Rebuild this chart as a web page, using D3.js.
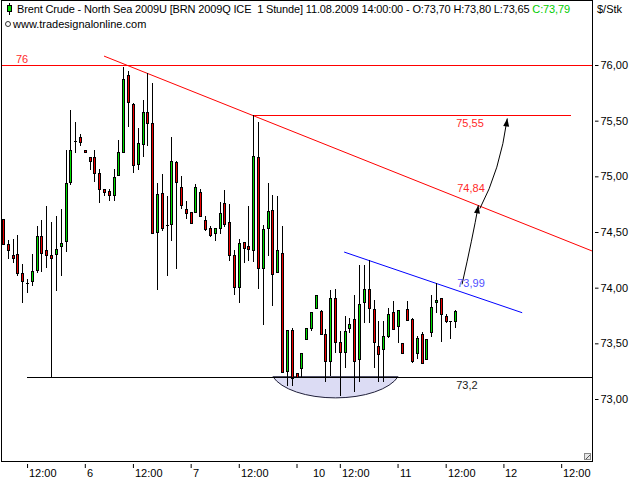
<!DOCTYPE html>
<html><head><meta charset="utf-8">
<script src="https://cdn.jsdelivr.net/npm/d3@7/dist/d3.min.js"></script>
<style>
body{margin:0;background:#fff}
svg{display:block}
text{font-family:"Liberation Sans",Arial,sans-serif;font-size:11px;white-space:pre}
</style>
</head><body>
<svg id="c" width="640" height="480"></svg>
<script>
// ---- data (hourly candles, Brent Crude) ----
const opens  = [74.62,74.39,74.29,74.30,74.13,74.04,74.06,74.16,74.46,74.34,74.29,74.30,74.37,74.42,74.95,75.32,75.35,75.24,75.17,75.17,
                75.03,74.89,74.87,74.83,75.01,75.22,75.91,75.65,75.11,75.29,75.58,75.48,74.50,74.85,74.56,74.57,75.13,74.90,74.71,74.68,
                74.68,74.86,74.61,74.54,74.49,74.54,74.76,74.59,74.29,74.01,74.41,74.37,74.34,75.17,74.18,74.54,74.70,74.14,74.31,73.25,
                73.62,73.23,73.28,73.54,73.64,73.82,73.79,73.58,73.34,73.91,73.51,73.42,73.64,73.72,73.36,73.87,73.99,73.81,73.48,73.45,
                73.57,73.78,73.66,73.50,73.81,73.72,73.41,73.58,73.36,73.60,73.87,73.91,73.75,73.70,73.70];
const highs  = [74.62,74.43,74.44,74.47,74.21,74.08,74.30,74.55,74.61,74.73,74.59,74.64,74.71,75.24,75.60,75.49,75.38,75.24,75.17,75.24,
                75.07,74.89,74.89,75.07,75.33,75.98,75.95,75.66,75.43,75.69,75.93,75.84,74.94,75.02,74.82,75.35,75.14,75.00,74.78,74.68,
                74.93,74.89,74.64,74.55,74.54,74.77,74.88,74.75,74.34,74.44,74.41,74.73,75.55,75.49,74.56,74.94,74.83,74.82,74.55,73.62,
                73.64,73.23,73.41,73.64,73.78,73.93,73.80,73.63,73.98,73.99,73.61,73.75,73.73,73.93,74.20,74.20,74.25,73.89,73.70,73.70,
                73.82,73.88,73.80,73.50,73.88,73.73,73.57,73.60,73.54,73.93,74.04,73.91,73.76,73.70,73.80];
const lows   = [74.39,74.27,74.23,74.11,73.87,73.96,74.02,74.14,74.15,74.19,73.20,73.98,74.11,74.33,74.93,75.22,75.28,75.22,75.07,74.96,
                74.77,74.83,74.79,74.79,75.01,75.22,75.45,75.04,75.07,75.18,75.28,74.49,73.99,74.52,74.11,74.43,74.18,74.72,74.63,74.58,
                74.68,74.64,74.52,74.46,74.43,74.49,74.55,74.25,73.94,73.87,74.23,74.25,74.24,74.00,73.67,74.29,73.84,74.14,73.24,73.13,
                73.13,73.20,73.20,73.54,73.62,73.82,73.58,73.16,73.22,73.42,73.04,73.29,73.60,73.07,73.16,73.69,73.69,73.29,73.16,73.16,
                73.56,73.63,73.51,73.41,73.71,73.33,73.37,73.32,73.36,73.57,73.78,73.52,73.69,73.55,73.65];
const closes = [74.39,74.34,74.27,74.13,74.06,74.04,74.15,74.46,74.31,74.29,74.27,74.35,74.40,74.94,75.24,75.32,75.31,75.22,75.14,75.03,
                74.89,74.86,74.83,74.99,75.22,75.87,75.67,75.10,75.30,75.58,75.48,74.49,74.84,74.54,74.56,75.14,74.95,74.74,74.67,74.58,
                74.90,74.64,74.53,74.47,74.54,74.67,74.57,74.29,74.01,74.40,74.36,74.35,75.18,74.18,74.53,74.69,74.12,74.34,73.24,73.62,
                73.19,73.20,73.41,73.64,73.78,73.93,73.58,73.34,73.91,73.51,73.42,73.61,73.67,73.34,73.85,73.99,73.82,73.51,73.40,73.57,
                73.76,73.63,73.80,73.41,73.71,73.34,73.55,73.32,73.54,73.83,73.89,73.76,73.70,73.70,73.79];

const priceTicks = [73.0, 73.5, 74.0, 74.5, 75.0, 75.5, 76.0];
const timeTickIdx  = [5, 17, 27, 39, 49, 61, 70, 82, 92, 104, 116];
const timeLabelIdx = [5, 17, 27, 39, 49, 64, 70, 82, 92, 104, 116];
const timeLabels   = ["12:00","6","12:00","7","12:00","10","12:00","11","12:00","12","12:00"];

// annotations (candle index, price)
const resistance76   = 76.0;
const resistance7555 = {from: 52, to: 118, price: 75.55};
const support732     = {from: 5, price: 73.2};
const downTrend      = [[21, 76.08], [122.4, 74.33]];
const blueTrend      = [[70.9, 74.32], [107.9, 73.775]];
const arrow1 = [[95.4, 74.03], [97.6, 74.45], [98.8, 74.74]];
const arrow2 = [[99.1, 74.71], [103.3, 75.05], [104.8, 75.52]];
const bowl   = {from: 56.1, to: 82.1, top: 73.2, bottom: 73.01};
const levelLabels = [
  {text: "76",    idx: 2.7,  price: 76.00, dy: -2, color: "#ff2a2a"},
  {text: "75,55", idx: 94.2, price: 75.55, dy: 12, color: "#ff2a2a"},
  {text: "74,84", idx: 94.4, price: 74.84, dy: 0,  color: "#ff2a2a"},
  {text: "73,99", idx: 94.4, price: 73.99, dy: 0,  color: "#5050ff"},
  {text: "73,2",  idx: 94.2, price: 73.2,  dy: 12, color: "#1a1a1a"}
];

// ---- layout ----
const svg = d3.select("#c");
const L = 1, T = 0, R = 592, B = 461;
const x = d3.scaleLinear().domain([0, 94]).range([3, 455.3]);
const y = d3.scaleLinear().domain([73, 76]).range([399, 65]);
const fmt = v => d3.format(".2f")(v).replace(".", ",");

svg.append("defs").append("clipPath").attr("id","plot")
  .append("rect").attr("x", L+1).attr("y", T+1).attr("width", R-L-1).attr("height", B-T-1);

const g = svg.append("g").attr("clip-path","url(#plot)");

// bowl (rounded bottom)
{
  const x0 = x(bowl.from), x1 = x(bowl.to), yt = y(bowl.top), yb = y(bowl.bottom);
  const half = (x1 - x0) / 2, depth = yb - yt;
  const ry = depth * 1.4, rx = half / Math.sqrt(1 - Math.pow((ry - depth) / ry, 2));
  g.append("path")
    .attr("d", `M${x0},${yt} A${rx},${ry} 0 0 0 ${x1},${yt} Z`)
    .attr("fill", "#dcdcf4").attr("stroke", "#20203a").attr("stroke-width", 1);
}

// horizontal red lines
const hr = g.append("g").attr("shape-rendering","crispEdges");
hr.append("line").attr("x1", L).attr("x2", R).attr("y1", Math.round(y(resistance76))+0.5).attr("y2", Math.round(y(resistance76))+0.5)
  .style("stroke", "#ff0000").style("stroke-width", 1);
hr.append("line").attr("x1", x(resistance7555.from)).attr("x2", x(resistance7555.to))
  .attr("y1", Math.round(y(resistance7555.price))+0.5).attr("y2", Math.round(y(resistance7555.price))+0.5)
  .style("stroke", "#ff0000").style("stroke-width", 1);

// trend lines
const line = d3.line().x(d => x(d[0])).y(d => y(d[1]));
g.append("path").attr("d", line(downTrend)).attr("stroke", "#ff0000").attr("fill", "none");
g.append("path").attr("d", line(blueTrend)).attr("stroke", "#0000ff").attr("fill", "none");

// candles
const n = opens.length;
const idx = d3.range(n);
const cg = g.append("g").attr("shape-rendering", "crispEdges");
idx.forEach(i => {
  const col = Math.round(x(i));
  const o = opens[i], c = closes[i], h = highs[i], l = lows[i];
  const yh = Math.round(y(h)), yl = Math.round(y(l));
  if (yl > yh) cg.append("line").attr("x1", col+0.5).attr("x2", col+0.5).attr("y1", yh).attr("y2", yl+1).attr("stroke", "#000");
  const yt = Math.round(y(Math.max(o, c))), yb = Math.round(y(Math.min(o, c)));
  if (yb - yt < 1) {
    cg.append("line").attr("x1", col-1).attr("x2", col+2).attr("y1", yt+0.5).attr("y2", yt+0.5).attr("stroke", "#000");
  } else {
    cg.append("rect").attr("x", col-0.5).attr("y", yt+0.5).attr("width", 2).attr("height", yb-yt)
      .attr("fill", c >= o ? "#00dd00" : "#ee0000").attr("stroke", "#000").attr("stroke-width", 1);
  }
});

// support line
g.append("line").attr("x1", x(support732.from)).attr("x2", R)
  .attr("y1", Math.round(y(support732.price))+0.5).attr("y2", Math.round(y(support732.price))+0.5)
  .attr("stroke", "#000").attr("shape-rendering","crispEdges");

// arrows
function arrow(pts) {
  const p = pts.map(d => [x(d[0]), y(d[1])]);
  g.append("path").attr("d", `M${p[0][0]},${p[0][1]} Q${p[1][0]},${p[1][1]} ${p[2][0]},${p[2][1]}`)
    .attr("fill","none").attr("stroke","#000");
  const ang = Math.atan2(p[2][1]-p[1][1], p[2][0]-p[1][0]);
  const len = 8, w = 3;
  const bx = p[2][0] - len*Math.cos(ang), by = p[2][1] - len*Math.sin(ang);
  const nx = -Math.sin(ang), ny = Math.cos(ang);
  g.append("path").attr("d", `M${p[2][0]},${p[2][1]} L${bx+nx*w},${by+ny*w} L${bx-nx*w},${by-ny*w} Z`).attr("fill","#000");
}
arrow(arrow1);
arrow(arrow2);

// level labels
levelLabels.forEach(d => {
  g.append("text").attr("x", x(d.idx)).attr("y", y(d.price) + d.dy - (d.dy === 0 ? 2 : 0))
    .attr("fill", d.color).text(d.text);
});

// frame
svg.append("rect").attr("x", L+0.5).attr("y", T+0.5).attr("width", R-L).attr("height", B-T)
  .attr("fill","none").attr("stroke","#000").attr("shape-rendering","crispEdges");
// resize grip
svg.append("rect").attr("x", R-7.5).attr("y", B-7.5).attr("width", 6).attr("height", 6).attr("fill","#e8e8e8").attr("stroke","#888");
svg.append("line").attr("x1", R-6).attr("y1", B-2).attr("x2", R-2).attr("y2", B-6).attr("stroke","#555");

// right price axis
const yAxis = d3.axisRight(y).tickValues(priceTicks).tickSize(3).tickPadding(6).tickFormat(fmt);
const ya = svg.append("g").attr("transform", `translate(${R+0.5},0)`).call(yAxis);
ya.select(".domain").remove();
ya.selectAll(".tick line").attr("x1", 2.5).attr("x2", 6).attr("stroke", "#000");
ya.selectAll(".tick text").attr("x", 8).attr("fill", "#000").style("font-size","11px").style("font-family","Liberation Sans, Arial, sans-serif");
svg.append("text").attr("x", 597).attr("y", 13).attr("fill","#000").text("$/Stk");

// bottom time axis
const xAxis = d3.axisBottom(x).tickValues(timeTickIdx).tickSize(4).tickFormat("");
const xa = svg.append("g").attr("transform", `translate(0,${B+3})`).call(xAxis);
xa.select(".domain").remove();
xa.selectAll(".tick line").attr("stroke","#000");
svg.append("g").selectAll("text").data(timeLabelIdx).join("text")
  .attr("x", (d) => Math.round(x(d)) + 2).attr("y", 477).attr("fill","#000")
  .text((d, i) => timeLabels[i]);

// header
const icon = svg.append("g").attr("shape-rendering","crispEdges");
icon.append("line").attr("x1", 9.5).attr("x2", 9.5).attr("y1", 3).attr("y2", 15).attr("stroke","#000");
icon.append("rect").attr("x", 7.5).attr("y", 5.5).attr("width", 4).attr("height", 6).attr("fill","#00dd00").attr("stroke","#000");
const t1 = svg.append("text").attr("x", 17).attr("y", 13).attr("fill","#000")
  .attr("textLength", 553).attr("lengthAdjust", "spacing");
t1.append("tspan").text("Brent Crude - North Sea 2009U [BRN 2009Q ICE  1 Stunde] 11.08.2009 14:00:00 - O:73,70 H:73,80 L:73,65 ");
t1.append("tspan").attr("fill","#00cc00").text("C:73,79");
svg.append("circle").attr("cx", 8).attr("cy", 24).attr("r", 2.5).attr("fill","none").attr("stroke","#000").attr("stroke-width",0.8);
svg.append("text").attr("x", 13).attr("y", 28).attr("fill","#000").text("www.tradesignalonline.com");
</script>
</body></html>
